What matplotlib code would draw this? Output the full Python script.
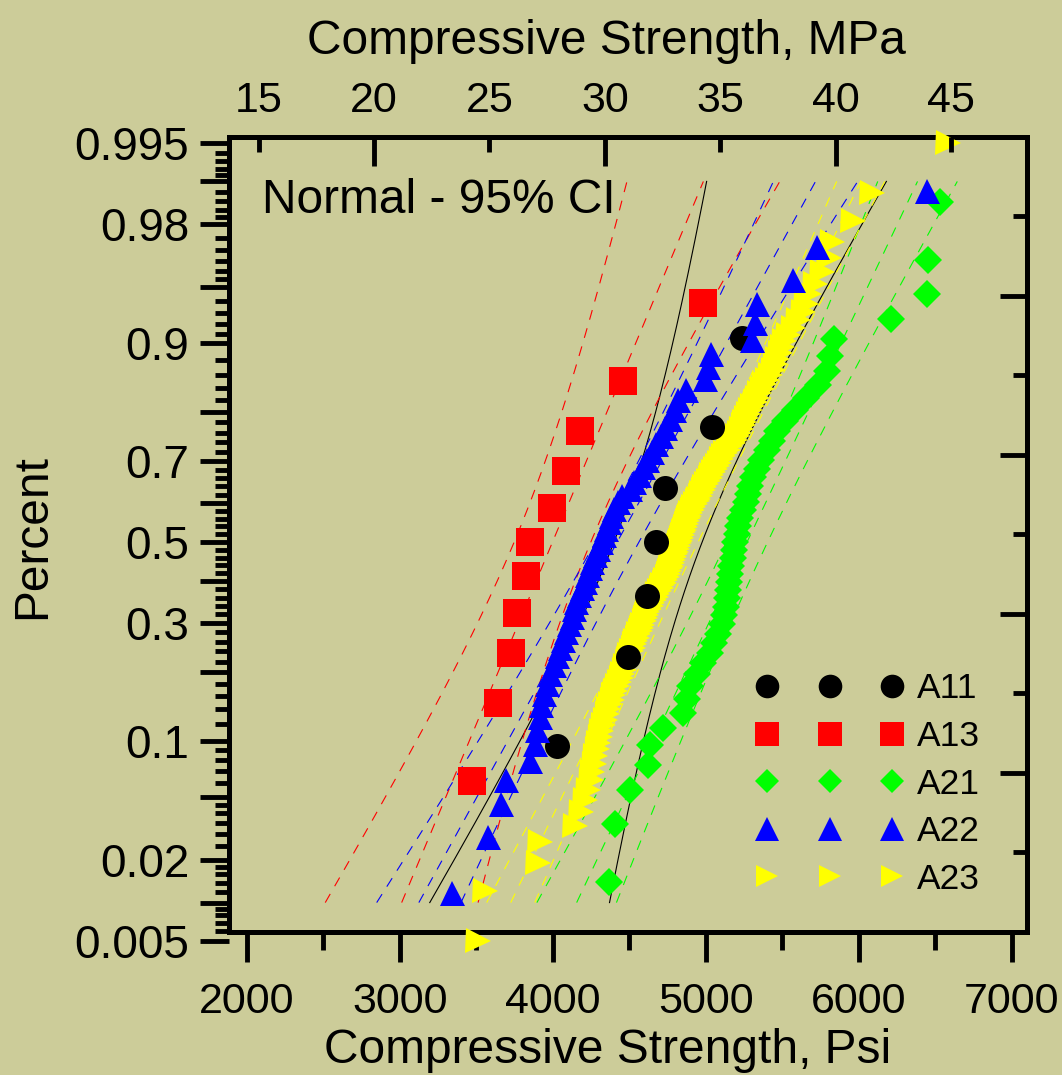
import numpy as np
import matplotlib
matplotlib.use("Agg")
import matplotlib.pyplot as plt
from matplotlib.lines import Line2D
from statistics import NormalDist

BG = "#CCCC99"
plt.rcParams["font.family"] = ["Liberation Sans", "DejaVu Sans"]

# compressive strength of each mix, psi
a11 = [4025, 4495, 4615, 4675, 4735, 5040, 5235]
a13 = [3475, 3645, 3725, 3765, 3825, 3850, 3995, 4090, 4175, 4460, 4980]
a21 = [4370, 4405, 4505, 4625, 4635, 4720, 4850, 4880, 4895, 4945,
       4980, 5030, 5055, 5080, 5105, 5120, 5135, 5140, 5145, 5150,
       5160, 5165, 5180, 5185, 5190, 5205, 5210, 5225, 5245, 5265,
       5275, 5290, 5310, 5335, 5360, 5400, 5435, 5465, 5520, 5585,
       5655, 5735, 5795, 5810, 5840, 6210, 6445, 6455, 6530]
a22 = [3340, 3575, 3660, 3695, 3850, 3885, 3895, 3915, 3925, 3945,
       3965, 3980, 4010, 4030, 4050, 4065, 4085, 4105, 4125, 4140,
       4150, 4170, 4190, 4210, 4225, 4245, 4255, 4275, 4295, 4315,
       4335, 4350, 4370, 4380, 4400, 4425, 4455, 4505, 4530, 4565,
       4590, 4615, 4650, 4675, 4710, 4735, 4765, 4795, 4820, 4870,
       4995, 5015, 5035, 5305, 5320, 5335, 5570, 5730, 6445]
a23 = [3510, 3560, 3905, 3915, 4145, 4185, 4210, 4230, 4250, 4255,
       4270, 4275, 4290, 4295, 4310, 4315, 4330, 4340, 4355, 4360,
       4375, 4390, 4395, 4405, 4420, 4435, 4445, 4455, 4465, 4475,
       4485, 4490, 4500, 4510, 4525, 4530, 4540, 4550, 4560, 4570,
       4575, 4585, 4595, 4605, 4610, 4615, 4630, 4640, 4650, 4660,
       4675, 4680, 4695, 4710, 4715, 4725, 4735, 4745, 4755, 4760,
       4765, 4775, 4780, 4785, 4795, 4800, 4805, 4810, 4820, 4825,
       4830, 4840, 4845, 4850, 4860, 4865, 4870, 4880, 4885, 4890,
       4895, 4910, 4915, 4930, 4945, 4950, 4965, 4970, 4980, 4990,
       5000, 5015, 5030, 5035, 5050, 5060, 5075, 5085, 5100, 5115,
       5125, 5145, 5160, 5180, 5190, 5205, 5220, 5230, 5245, 5250,
       5265, 5275, 5290, 5305, 5320, 5335, 5350, 5370, 5380, 5400,
       5420, 5440, 5455, 5465, 5485, 5500, 5510, 5540, 5570, 5605,
       5635, 5655, 5675, 5715, 5760, 5805, 5825, 5965, 6085, 6585]

names = ["A11", "A13", "A21", "A22", "A23"]
groups = [a11, a13, a21, a22, a23]
colors = ["#000000", "#FF0000", "#00FF00", "#0000FF", "#FFFF00"]
markers = ["o", "s", "D", "^", ">"]

psi_ticks = [2000, 3000, 4000, 5000, 6000, 7000]
psi_minor = [2500, 3500, 4500, 5500, 6500]
mpa_major = [20, 30, 40]
mpa_minor = [15, 25, 35, 45]
prob_major = [0.005, 0.01, 0.02, 0.05, 0.1, 0.2, 0.3, 0.4, 0.5, 0.6,
              0.7, 0.8, 0.9, 0.95, 0.98, 0.99, 0.995]
prob_labels = ["0.005", "0.02", "0.1", "0.3", "0.5", "0.7", "0.9", "0.98", "0.995"]
prob_minor = ([0.006, 0.007, 0.008, 0.009, 0.012, 0.014, 0.016, 0.018,
               0.025, 0.03, 0.035, 0.04, 0.045, 0.06, 0.07, 0.08, 0.09]
              + [round(0.1 + 0.02 * k, 2) for k in range(1, 40) if k % 5]
              + [0.91, 0.92, 0.93, 0.94, 0.955, 0.96, 0.965, 0.97, 0.975,
                 0.982, 0.984, 0.986, 0.988, 0.991, 0.992, 0.993, 0.994])

nd = NormalDist()
W, H = 1062, 1075


def fx(px):
    return px / W


def fy(py):
    return 1 - py / H


L, R, T, B = 229.3, 1026.7, 136.7, 931.7
Y0, K = 542.0, 155.0   # pixel row of p = 0.5 and pixels per unit of z


def zrow(py):
    return (Y0 - py) / K


fig = plt.figure(figsize=(W / 100, H / 100), dpi=100, facecolor=BG)
ax = fig.add_axes([fx(L), fy(B), fx(R) - fx(L), fy(T) - fy(B)])
ax.set_facecolor(BG)
ax.set_xlim(1886, 7098)
ax.set_ylim(zrow(B), zrow(T))
for s in ax.spines.values():
    s.set_linewidth(3.6)

# fitted normal line and 95% bounds
zz = np.linspace(nd.inv_cdf(0.01), nd.inv_cdf(0.99), 200)
for name, vals, col in zip(names, groups, colors):
    x = np.sort(np.asarray(vals, float))
    n = len(x)
    mu, sd = x.mean(), x.std(ddof=1)
    fit = mu + sd * zz
    w = 1.96 * sd * np.sqrt(1 / n + zz ** 2 / (2 * (n - 1)))
    if name == "A11":
        ax.plot(fit - w, zz, color=col, lw=0.8, zorder=2)
        ax.plot(fit + w, zz, color=col, lw=0.8, zorder=2)
    else:
        for xs in (fit - w, fit, fit + w):
            ax.plot(xs, zz, color=col, lw=0.8, ls=(0, (9, 8)), zorder=2)

sizes = [18, 20, 14, 18, 18]
layer = [3.4, 3.6, 3.2, 3.8, 3.0]
for name, vals, col, mk, ms, zo in zip(names, groups, colors, markers, sizes, layer):
    x = np.sort(np.asarray(vals, float))
    n = len(x)
    z = [nd.inv_cdf((i - 0.3) / (n + 0.4)) for i in range(1, n + 1)]
    ax.plot(x, z, ls="none", marker=mk, color=col, ms=ms, mew=0,
            zorder=zo, clip_on=False)

# bottom psi axis
ax.set_xticks(psi_ticks)
ax.set_xticks(psi_minor, minor=True)
ax.tick_params(axis="x", which="major", direction="out", length=21.5,
               width=3.5, labelsize=31, pad=15)
ax.tick_params(axis="x", which="minor", direction="out", length=13, width=3.5)
ax.tick_params(axis="y", which="both", left=False, labelleft=False)
ax.set_xlabel("Compressive Strength, Psi", fontsize=34.5)
ax.xaxis.set_label_coords(0.475, -0.121)
ax.set_ylabel("Percent", fontsize=34.5)
ax.yaxis.set_label_coords(-0.218, 0.4965)

ax.text(0.041, 0.920, "Normal - 95% CI", transform=ax.transAxes,
        fontsize=34.5, va="center", ha="left")

# probability ticks on the left
BT = 946
axt = fig.add_axes([fx(L), fy(BT), fx(R) - fx(L), fy(T) - fy(BT)])
axt.set_ylim(zrow(BT), zrow(T))
axt.patch.set_visible(False)
for s in axt.spines.values():
    s.set_visible(False)
axt.set_xticks([])
axt.set_yticks([nd.inv_cdf(p) for p in prob_major])
axt.set_yticklabels([("%g" % p) if ("%g" % p) in prob_labels else ""
                     for p in prob_major])
axt.set_yticks([nd.inv_cdf(p) for p in prob_minor], minor=True)
axt.tick_params(axis="y", which="major", direction="out", length=21,
                width=3.5, labelsize=33, pad=8)
axt.tick_params(axis="y", which="minor", direction="out", length=10, width=3.5)

# right frame ticks
axr = fig.add_axes([fx(L), fy(B), fx(R) - fx(L), fy(T) - fy(B)])
axr.set_ylim(0, 5)
axr.patch.set_visible(False)
for s in axr.spines.values():
    s.set_visible(False)
axr.set_xticks([])
axr.yaxis.tick_right()
axr.set_yticks(range(6))
axr.set_yticks(np.arange(0.5, 5, 1.0), minor=True)
axr.tick_params(axis="y", which="both", direction="in", width=3.5,
                labelright=False, labelleft=False)
axr.tick_params(axis="y", which="major", length=19.5)
axr.tick_params(axis="y", which="minor", length=10)

# top MPa axis
axm = ax.twiny()
axm.set_xlim(13.73, 48.28)
for s in axm.spines.values():
    s.set_visible(False)
axm.set_xticks(mpa_major)
axm.set_xticklabels([str(v) for v in mpa_major])
axm.set_xticks(mpa_minor, minor=True)
axm.set_xticklabels([str(v) for v in mpa_minor], minor=True)
axm.tick_params(axis="x", which="both", direction="in", width=3.5,
                top=True, labeltop=True, bottom=False, labelbottom=False,
                labelsize=31, pad=11)
axm.tick_params(axis="x", which="major", length=21)
axm.tick_params(axis="x", which="minor", length=11)
axm.set_xlabel("Compressive Strength, MPa", fontsize=34.5)
axm.xaxis.set_label_coords(0.473, 1.104)

# legend with three markers per entry
leg_sizes = [17, 17, 12.5, 17, 16]
handles = [Line2D([], [], ls="none", marker=mk, color=col, ms=ms, mew=0)
           for col, mk, ms in zip(colors, markers, leg_sizes)]
ax.legend(handles, names, loc="upper left",
          bbox_to_anchor=(fx(756.4), fy(672.5)), bbox_transform=fig.transFigure,
          numpoints=3, frameon=False, fontsize=25.5, handlelength=4.13,
          handletextpad=0.41, labelspacing=0.41, borderpad=0, borderaxespad=0)

fig.savefig("out.png", dpi=100, facecolor=BG)
